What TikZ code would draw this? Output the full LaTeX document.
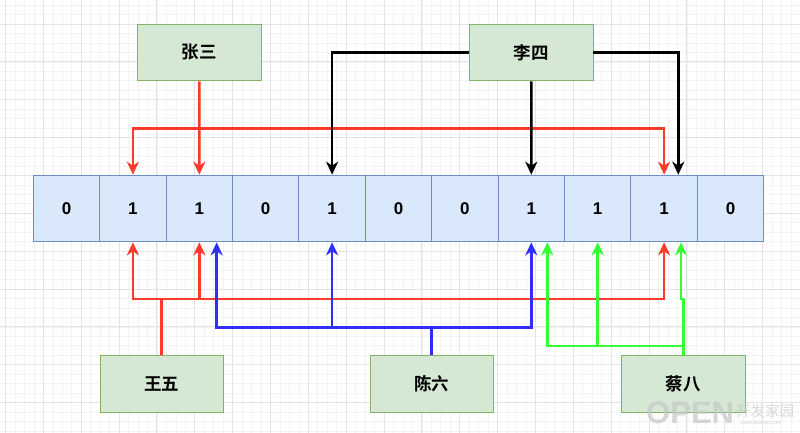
\documentclass[tikz,border=0pt]{standalone}
\usepackage{fontspec}
\setmainfont{Liberation Sans}
\newfontfamily\cjk{Noto Sans CJK SC}[BoldFont={Noto Sans CJK SC Bold}]
\usetikzlibrary{arrows.meta,calc}
\definecolor{cellfill}{HTML}{DAE8FC}
\definecolor{cellline}{HTML}{6C8EBF}
\definecolor{boxfill}{HTML}{D5E8D4}
\definecolor{boxline}{HTML}{82B366}
\definecolor{cred}{HTML}{FF3A2A}
\definecolor{cblue}{HTML}{2E2EFF}
\definecolor{cgreen}{HTML}{33FF33}
\definecolor{gminor}{HTML}{F3F3F3}
\definecolor{gmajor}{HTML}{E4E4E4}
\tikzset{
  cellbox/.style={draw=cellline, fill=cellfill, line width=0.9pt, minimum width=66.4pt, minimum height=66.7pt, inner sep=0pt, font=\fontsize{17}{20}\selectfont\bfseries},
  person/.style={draw=boxline, fill=boxfill, line width=0.9pt, minimum width=123.3pt, minimum height=56.7pt, inner sep=0pt, font=\cjk\fontsize{17.5}{20}\selectfont\bfseries},
  link/.style={line width=2.6pt, -{Stealth[length=13pt,width=12pt,inset=4pt]}},
  plain/.style={line width=2.6pt},
  wmark/.style={text=gray!45, opacity=0.7, inner sep=0pt},
}
\begin{document}
\begin{tikzpicture}[x=1pt,y=-1pt]
\useasboundingbox (0,0) rectangle (800,433);
\fill[white] (0,0) rectangle (800,433);
% grid
\foreach \i in {-1,...,85} {
  \pgfmathsetmacro{\gx}{5.5+9.4625*\i}
  \draw[gminor, line width=0.6pt] (\gx,0) -- (\gx,433);
}
\foreach \i in {-3,...,46} {
  \pgfmathsetmacro{\gy}{24+9.4625*\i}
  \draw[gminor, line width=0.6pt] (0,\gy) -- (800,\gy);
}
\foreach \i in {0,...,21} {
  \pgfmathsetmacro{\gx}{5.5+37.85*\i}
  \draw[gmajor, line width=0.9pt] (\gx,0) -- (\gx,433);
}
\foreach \i in {-1,...,11} {
  \pgfmathsetmacro{\gy}{24+37.85*\i}
  \draw[gmajor, line width=0.9pt] (0,\gy) -- (800,\gy);
}
% cells
\foreach \v [count=\k from 0] in {0,1,1,0,1,0,0,1,1,1,0} {
  \pgfmathsetmacro{\cx}{66.5+66.4*\k}
  \node[cellbox] (c\k) at (\cx,208.5) {\v};
}
% people
\node[person] (zs) at (199.3,52.5) {张三};
\node[person] (ls) at (531.3,52.5) {李四};
\node[person] (ww) at (161.7,384) {王五};
\node[person] (cl) at (431.7,384) {陈六};
\node[person] (cb) at (683.3,384) {蔡八};
% junctions
\coordinate (zsj) at (199.3,128.3);
\coordinate (wwj) at (161.7,299);
\coordinate (clj) at (431.7,327.3);
\coordinate (cbj) at (683.3,346);
% Zhang San (red, top)
\draw[cred, link] (zs.south) -- (c2.north);
\draw[cred, link] (zsj) -| (c1.north);
\draw[cred, link] (zsj) -| (c9.north);
% Li Si (black)
\draw[black, link] (ls.west) -| (c4.north);
\draw[black, link] (ls.south) -- (c7.north);
\draw[black, link] (ls.east) -| ($(c9.north)+(14.2,0)$);
% Wang Wu (red, bottom)
\draw[cred, plain] (ww.north) -- (wwj);
\draw[cred, link] (wwj) -| (c1.south);
\draw[cred, link] (wwj) -| (c2.south);
\draw[cred, link] (wwj) -| (c9.south);
% Chen Liu (blue)
\draw[cblue, plain] (cl.north) -- (clj);
\draw[cblue, link] (clj) -| ($(c2.south)+(17.4,0)$);
\draw[cblue, link] (clj) -| (c4.south);
\draw[cblue, link] (clj) -| (c7.south);
% Cai Ba (green)
\draw[cgreen, plain] (cb.north) -- (cbj);
\draw[cgreen, link] (cbj) -| ($(c7.south)+(16,0)$);
\draw[cgreen, link] (cbj) -| (c8.south);
\draw[cgreen, link] (cbj) -- (683.3,299) -| ($(c9.south)+(16.9,0)$);
% watermark
\node[wmark, font=\fontsize{31}{31}\selectfont\bfseries, anchor=west] (wm) at (646,413) {OPEN};
\node[wmark, font=\cjk\fontsize{14.5}{14.5}\selectfont, anchor=base west, text height=11pt, text depth=0pt] (wm2) at (736,416) {开发家园};
\node[wmark, font=\fontsize{5.5}{6}\selectfont, anchor=north west, text height=4pt, text depth=0.5pt] (wm3) at (740,420.5) {www.openjq.com};
\end{tikzpicture}
\end{document}
